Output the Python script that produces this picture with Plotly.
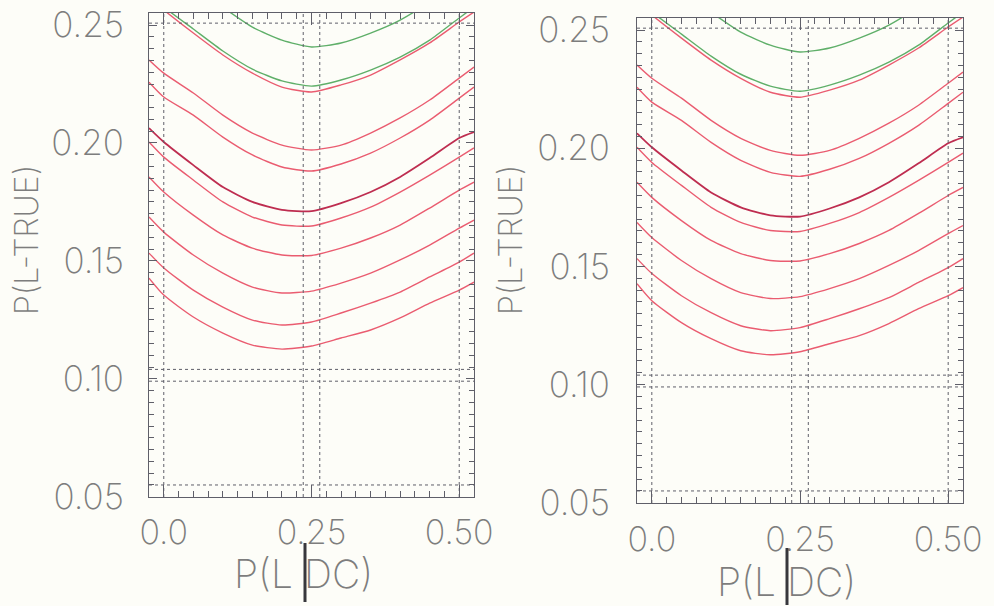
import plotly.graph_objects as go

# ---- data (both panels show the same curves) ----
p_l_dc = [-0.025, 0.0, 0.05, 0.10, 0.15, 0.20, 0.25, 0.30, 0.35, 0.40, 0.45, 0.50, 0.525]

green_1 = [0.282, 0.276, 0.266, 0.2575, 0.2491, 0.2436, 0.2407, 0.2424, 0.2466, 0.2521, 0.2600, 0.270, 0.276]
green_2 = [0.2627, 0.2576, 0.2483, 0.2390, 0.2313, 0.2263, 0.2241, 0.2267, 0.2309, 0.2364, 0.2436, 0.2530, 0.2576]
red_1 = [0.2619, 0.2564, 0.2466, 0.2373, 0.2296, 0.2237, 0.2216, 0.2246, 0.2288, 0.2352, 0.2424, 0.2513, 0.2555]
red_2 = [0.2352, 0.2296, 0.2212, 0.2118, 0.2042, 0.1991, 0.1970, 0.1991, 0.2042, 0.2106, 0.2182, 0.2275, 0.2322]
red_3 = [0.2258, 0.2195, 0.2118, 0.2025, 0.1949, 0.1898, 0.1881, 0.1911, 0.1957, 0.2021, 0.2097, 0.2190, 0.2237]
red_4 = [0.2063, 0.2004, 0.1906, 0.1813, 0.1750, 0.1716, 0.1711, 0.1745, 0.1792, 0.1856, 0.1936, 0.2021, 0.2046]
red_5 = [0.2004, 0.1940, 0.1843, 0.1750, 0.1686, 0.1652, 0.1648, 0.1682, 0.1728, 0.1792, 0.1864, 0.1940, 0.1979]
red_6 = [0.1856, 0.1792, 0.1694, 0.1610, 0.1554, 0.1525, 0.1523, 0.1554, 0.1597, 0.1652, 0.1724, 0.1800, 0.1834]
red_7 = [0.1686, 0.1622, 0.1525, 0.1448, 0.1389, 0.1364, 0.1372, 0.1406, 0.1448, 0.1504, 0.1567, 0.1639, 0.1673]
red_8 = [0.1533, 0.1470, 0.1376, 0.1304, 0.1249, 0.1228, 0.1241, 0.1279, 0.1321, 0.1368, 0.1432, 0.1495, 0.1533]
red_9 = [0.1427, 0.1355, 0.1262, 0.1194, 0.1143, 0.1126, 0.1139, 0.1173, 0.1207, 0.1258, 0.1321, 0.1376, 0.1410]

x_tick_vals = [0.0, 0.25, 0.50]
x_tick_text = ["0.0", "0.25", "0.50"]
y_tick_vals = [0.05, 0.10, 0.15, 0.20, 0.25]
y_tick_text = ["0.05", "0.10", "0.15", "0.20", "0.25"]

# reference (dotted) lines of the plotter frame
ref_x = [0.0, 0.236, 0.264, 0.5]
ref_y = [0.055, 0.099, 0.104, 0.2508]

x_title = "P(L DC)"
y_title = "P(L-TRUE)"

# ---- styling ----
RED = "rgb(234,92,112)"
DARK_RED = "rgb(190,45,80)"
GREEN = "rgb(95,175,105)"
FRAME = "rgb(95,95,105)"
TEXT = "rgb(125,125,125)"
BG = "rgb(253,253,248)"
FONT = "Inter"
WEIGHT = 200

series = [
    (green_1, GREEN, 1.4),
    (green_2, GREEN, 1.4),
    (red_1, RED, 1.4),
    (red_2, RED, 1.4),
    (red_3, RED, 1.4),
    (red_4, DARK_RED, 1.8),
    (red_5, RED, 1.4),
    (red_6, RED, 1.4),
    (red_7, RED, 1.4),
    (red_8, RED, 1.4),
    (red_9, RED, 1.4),
]

X_RANGE = [-0.025, 0.525]
Y_RANGE = [0.0499, 0.2551]

fig = go.Figure()

for suffix in ["", "2"]:
    for vals, col, w in series:
        fig.add_trace(go.Scatter(
            x=p_l_dc, y=vals, mode="lines",
            line=dict(color=col, width=w, shape="spline", smoothing=0.6),
            xaxis="x" + suffix, yaxis="y" + suffix,
            showlegend=False, hoverinfo="skip",
        ))


def xaxis_cfg(domain, anchor, standoff):
    return dict(
        domain=domain, anchor=anchor, range=X_RANGE, automargin=False,
        showline=True, linecolor=FRAME, linewidth=1, mirror="ticks",
        ticks="inside", ticklen=12, tickcolor=FRAME, tickwidth=1,
        tickvals=x_tick_vals, ticktext=x_tick_text,
        minor=dict(dtick=0.025, tick0=0.0, ticks="inside", ticklen=6,
                   tickcolor=FRAME, tickwidth=1, showgrid=False),
        showgrid=False, zeroline=False,
        tickfont=dict(family=FONT, size=34, color=TEXT, weight=WEIGHT),
        ticklabelstandoff=standoff,
    )


def yaxis_cfg(domain, anchor, standoff):
    return dict(
        domain=domain, anchor=anchor, range=Y_RANGE, automargin=False,
        showline=True, linecolor=FRAME, linewidth=1, mirror="ticks",
        ticks="inside", ticklen=8, tickcolor=FRAME, tickwidth=1,
        tickvals=y_tick_vals, ticktext=y_tick_text,
        minor=dict(dtick=0.005, tick0=0.05, ticks="inside", ticklen=5,
                   tickcolor=FRAME, tickwidth=1, showgrid=False),
        showgrid=False, zeroline=False,
        tickfont=dict(family=FONT, size=35, color=TEXT, weight=WEIGHT),
        ticklabelstandoff=standoff,
    )


W, H = 994, 606
fig.update_layout(
    width=W, height=H,
    margin=dict(l=0, r=0, t=0, b=0, autoexpand=False),
    paper_bgcolor=BG, plot_bgcolor=BG,
    xaxis=xaxis_cfg([149 / W, 474 / W], "y", 5),
    yaxis=yaxis_cfg([1 - 497 / H, 1 - 13 / H], "x", 17),
    xaxis2=xaxis_cfg([637 / W, 963 / W], "y2", 6),
    yaxis2=yaxis_cfg([1 - 503 / H, 1 - 18 / H], "x2", 19),
)

shapes = []
for xr, yr in [("x", "y"), ("x2", "y2")]:
    for xv in ref_x:
        shapes.append(dict(type="line", xref=xr, yref=yr, x0=xv, x1=xv,
                           y0=Y_RANGE[0], y1=Y_RANGE[1],
                           line=dict(color=FRAME, width=1, dash="dot")))
    for yv in ref_y:
        shapes.append(dict(type="line", xref=xr, yref=yr, x0=X_RANGE[0], x1=X_RANGE[1],
                           y0=yv, y1=yv,
                           line=dict(color=FRAME, width=1, dash="dot")))

# thick conditional bar in the x titles
for bx, by0, by1 in [(305, 543, 602), (787, 548, 605)]:
    shapes.append(dict(type="line", xref="paper", yref="paper",
                       x0=bx / W, x1=bx / W, y0=1 - by1 / H, y1=1 - by0 / H,
                       line=dict(color="rgb(55,55,60)", width=3)))
fig.update_layout(shapes=shapes)

annotations = []
for cx, cy in [(303, 573), (786, 581)]:
    annotations.append(dict(text=x_title, xref="paper", yref="paper",
                            x=cx / W, y=1 - cy / H, showarrow=False,
                            xanchor="center", yanchor="middle",
                            font=dict(family=FONT, size=39, color=TEXT, weight=WEIGHT)))
for cx, cy in [(26, 240), (510, 240)]:
    annotations.append(dict(text=y_title, xref="paper", yref="paper",
                            x=cx / W, y=1 - cy / H, showarrow=False, textangle=-90,
                            xanchor="center", yanchor="middle",
                            font=dict(family=FONT, size=32, color=TEXT, weight=WEIGHT)))
fig.update_layout(annotations=annotations)

fig.write_html("out.html")
